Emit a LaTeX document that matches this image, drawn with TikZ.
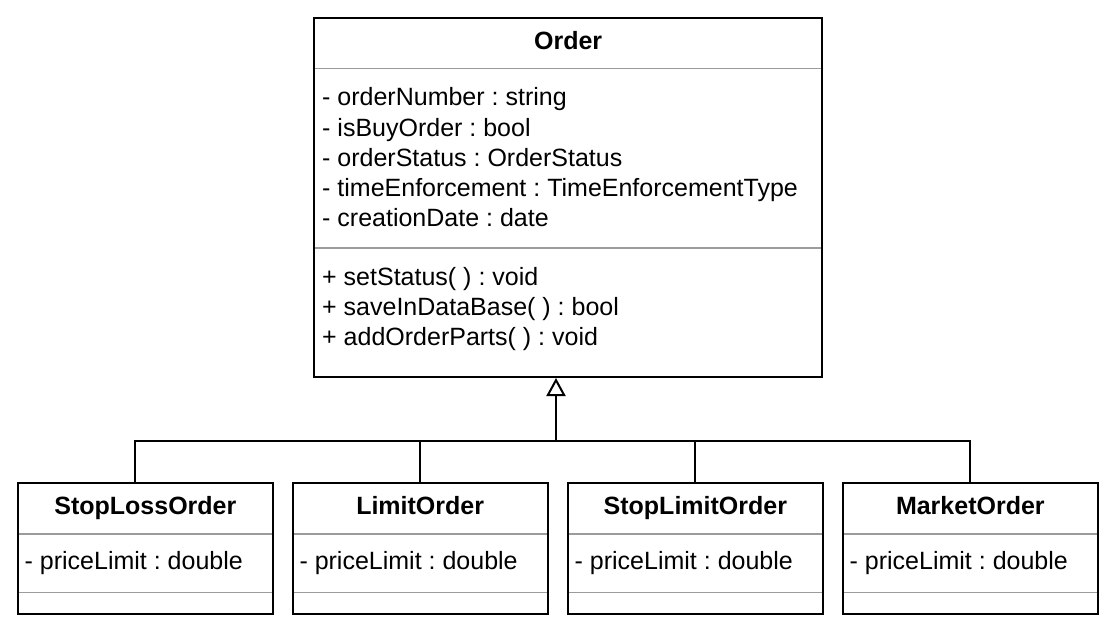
\documentclass[tikz,border=0pt]{standalone}
\usepackage{fontspec}
\setmainfont{Liberation Sans}
\usetikzlibrary{arrows.meta}
\definecolor{divgray}{RGB}{155,155,155}
\frenchspacing
\begin{document}
\begin{tikzpicture}[x=1pt,y=-1pt,
  classbox/.style={draw=black,line width=2pt,rectangle,inner sep=0pt,fill=white},
  divline/.style={draw=divgray,line width=1.5pt},
  conn/.style={draw=black,line width=2pt},
  txt/.style={inner sep=0pt,anchor=base west,font=\fontsize{25}{30}\selectfont\frenchspacing},
  ttl/.style={inner sep=0pt,anchor=base,font=\fontsize{25}{30}\selectfont\bfseries},
  gen/.style={-{Triangle[open,length=18pt,width=19pt,line width=2pt]}}
]
\useasboundingbox (0,0) rectangle (1117,634);

% ---- Order class ----
\node[classbox,minimum width=508.3pt,minimum height=359.3pt] (order) at (568.15,197.35) {};
\draw[divline] (315,68.5) -- (821.3,68.5);
\draw[divline] (315,248) -- (821.3,248);
\node[ttl] (ordertitle) at (568.15,50) {Order};
\node[txt] (a1) at (322,106) {- orderNumber : string};
\node[txt] (a2) at (322,136) {- isBuyOrder : bool};
\node[txt] (a3) at (322,166) {- orderStatus : OrderStatus};
\node[txt] (a4) at (322,196) {- timeEnforcement : TimeEnforcementType};
\node[txt] (a5) at (322,226) {- creationDate : date};
\node[txt] (m1) at (322,285) {+ setStatus( ) : void};
\node[txt] (m2) at (322,315) {+ saveInDataBase( ) : bool};
\node[txt] (m3) at (322,345) {+ addOrderParts( ) : void};

% ---- child classes ----
\foreach \nm/\lx/\title in {sl/18/StopLossOrder, lo/292.8/LimitOrder, slo/568/StopLimitOrder, mo/843/MarketOrder}{
  \node[classbox,minimum width=254.7pt,minimum height=131.3pt] (\nm) at ({\lx+127.35},548.35) {};
  \draw[divline] ({\lx+1},534) -- ({\lx+253.7},534);
  \draw[divline] ({\lx+1},592.7) -- ({\lx+253.7},592.7);
  \node[ttl] (\nm title) at ({\lx+127.35},514) {\title};
  \node[txt] (\nm attr) at ({\lx+6.5},569.5) {- priceLimit : double};
}

% ---- generalization connectors ----
\coordinate (bus) at (556,440.7);
\coordinate (jsl) at (135,440.7);
\coordinate (jlo) at (420,440.7);
\coordinate (jslo) at (695,440.7);
\coordinate (jmo) at (970,440.7);
\draw[conn] (sl.north -| jsl) -- (jsl) -- (jmo) -- (mo.north -| jmo);
\draw[conn] (lo.north -| jlo) -- (jlo);
\draw[conn] (slo.north -| jslo) -- (jslo);
\draw[conn,gen] (bus) -- (order.south -| bus);
\end{tikzpicture}
\end{document}
